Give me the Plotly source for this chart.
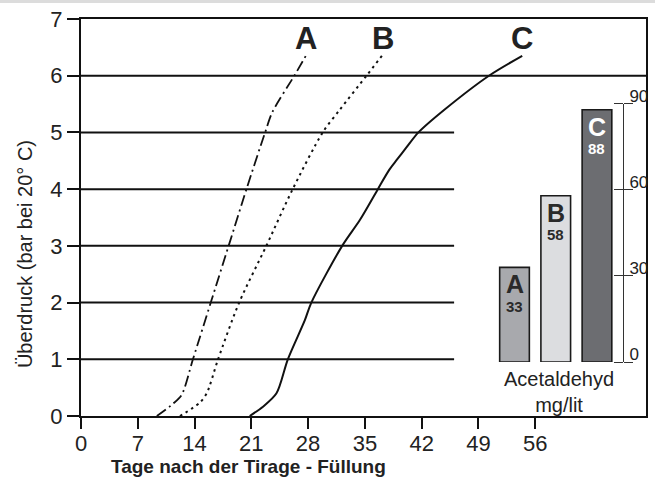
import plotly.graph_objects as go

# ---- data ----
days_A = [9.35, 11.3, 12.4, 13.8, 16.0, 18.2, 20.4, 22.7, 23.6, 26.3, 27.8]
pres_A = [0, 0.21, 0.37, 1, 2, 3, 4, 5, 5.36, 6, 6.37]
days_B = [12.2, 14.6, 15.5, 16.9, 19.5, 22.85, 26.1, 29.8, 31.9, 35.2, 37.2]
pres_B = [0, 0.23, 0.4, 1, 2, 3, 4, 5, 5.4, 6, 6.37]
days_C = [20.8, 22.4, 24.1, 25.5, 27.6, 28.4, 32.2, 34.4, 36.6, 38.0, 38.9, 40.1, 41.6, 44.8, 50.3, 54.4]
pres_C = [0, 0.16, 0.4, 1, 1.69, 2, 3, 3.46, 4, 4.34, 4.51, 4.73, 5, 5.4, 6, 6.35]

curve_names = ["A", "B", "C"]
x_ticks = [0, 7, 14, 21, 28, 35, 42, 49, 56]
y_ticks = [0, 1, 2, 3, 4, 5, 6, 7]
grid_levels = [1, 2, 3, 4, 5, 6]
grid_ends = [46, 46, 46, 46, 46, 69.66]

acet_cats = ["A", "B", "C"]
acet_vals = [33, 58, 88]
acet_ticks = [0, 30, 60, 90]

x_title = "Tage nach der Tirage - Füllung"
y_title = "Überdruck (bar bei 20° C)"

FONT = "Liberation Sans, Arial, sans-serif"
INK = "#222222"

fig = go.Figure()

styles = [
    dict(color="#111", width=1.8, dash="11px,4px,2px,4px"),
    dict(color="#111", width=2, dash="2.5px,4px"),
    dict(color="#111", width=2),
]
for xs, ys, st in zip([days_A, days_B, days_C], [pres_A, pres_B, pres_C], styles):
    fig.add_trace(go.Scatter(x=xs, y=ys, mode="lines",
                             line=dict(shape="spline", smoothing=0.8, **st),
                             showlegend=False, hoverinfo="skip"))

# curve labels
for name, xs, ys in zip(curve_names, [days_A, days_B, days_C], [pres_A, pres_B, pres_C]):
    fig.add_annotation(x=xs[-1], y=6.66, xref="x", yref="y", text=f"<b>{name}</b>",
                       showarrow=False, font=dict(family=FONT, size=31, color=INK))

# grid lines (partial)
for lv, xe in zip(grid_levels, grid_ends):
    fig.add_shape(type="line", xref="x", yref="y", x0=0, x1=xe, y0=lv, y1=lv,
                  line=dict(color="#111", width=2), layer="below")

# inset bars
bar_colors = ["#a8a9ad", "#dcdde0", "#6c6d71"]
text_colors = ["#2a2a2a", "#2a2a2a", "#ffffff"]
fig.add_trace(go.Bar(x=acet_cats, y=acet_vals, xaxis="x2", yaxis="y2", width=0.72,
                     marker=dict(color=bar_colors, line=dict(color="#1a1a1a", width=1.6)),
                     showlegend=False, hoverinfo="skip"))
# extra overlaid axis for left half of cross ticks
fig.add_trace(go.Scatter(x=[None], y=[None], xaxis="x2", yaxis="y3", showlegend=False,
                         hoverinfo="skip"))

for cat, val, tc in zip(acet_cats, acet_vals, text_colors):
    fig.add_annotation(x=cat, y=val, xref="x2", yref="y2", text=f"<b>{cat}</b>",
                       showarrow=False, yanchor="middle", yshift=-17,
                       font=dict(family=FONT, size=25, color=tc))
    fig.add_annotation(x=cat, y=val, xref="x2", yref="y2", text=f"<b>{val}</b>",
                       showarrow=False, yanchor="middle", yshift=-39,
                       font=dict(family=FONT, size=15, color=tc))

fig.add_annotation(x="B", y=0, xref="x2", yref="y2", xshift=3, yshift=-4,
                   yanchor="top",
                   text="Acetaldehyd<br>mg/lit", showarrow=False, align="center",
                   font=dict(family=FONT, size=20, color=INK))

# axis titles (placed off-centre as in the reference)
fig.add_annotation(x=0.297, y=-0.128, xref="paper", yref="paper", text=f"<b>{x_title}</b>",
                   xanchor="center", yanchor="middle",
                   showarrow=False, font=dict(family=FONT, size=19, color=INK))
fig.add_annotation(x=-0.099, y=0.408, xref="paper", yref="paper", text=y_title,
                   xanchor="center", yanchor="middle",
                   textangle=-90, showarrow=False, font=dict(family=FONT, size=20, color=INK))

# top grey strip
fig.add_shape(type="rect", xref="paper", yref="paper", x0=-0.25, x1=1.1,
              y0=1 + 16 / 397, y1=1 + 25 / 397, fillcolor="#dcdcdc", line=dict(width=0),
              layer="below")

fig.update_layout(
    width=655, height=479,
    margin=dict(l=81, r=9, t=19, b=63),
    paper_bgcolor="white", plot_bgcolor="white",
    font=dict(family=FONT, color=INK),
    xaxis=dict(range=[0, 69.66], tickvals=x_ticks, showgrid=False, zeroline=False,
               showline=True, linecolor="#111", linewidth=2, mirror=True, automargin=False,
               ticks="outside", ticklen=11, tickwidth=2, tickcolor="#111",
               tickfont=dict(size=22, family=FONT, color=INK), ticklabelstandoff=-4),
    yaxis=dict(range=[0, 7], tickvals=y_ticks, showgrid=False, zeroline=False,
               showline=True, linecolor="#111", linewidth=2, mirror=True, automargin=False,
               ticks="outside", ticklen=12, tickwidth=2, tickcolor="#111",
               tickfont=dict(size=22, family=FONT, color=INK), ticklabelstandoff=0),
    xaxis2=dict(domain=[0.7308, 0.9497], anchor="y2", range=[-0.5, 2.5], visible=False,
                type="category", fixedrange=True, automargin=False),
    yaxis2=dict(domain=[0.136, 0.786], anchor="free", position=0.9593, side="right",
                range=[0, 90], tickvals=acet_ticks, showgrid=False, zeroline=False,
                showline=True, linecolor="#333", linewidth=1, automargin=False,
                ticks="outside", ticklen=9, tickwidth=1, tickcolor="#333",
                ticklabelshift=-8, ticklabelstandoff=-7,
                tickfont=dict(size=17, family=FONT, color=INK)),
    yaxis3=dict(overlaying="y2", anchor="free", position=0.9593, side="left",
                range=[0, 90], tickvals=acet_ticks, showgrid=False, zeroline=False,
                showline=False, showticklabels=False, automargin=False,
                ticks="outside", ticklen=9, tickwidth=1, tickcolor="#333"),
)

# remove the default page margin so the figure sits at the window's corner
fig.write_html("out.html", config={"displayModeBar": False},
               post_script="document.body.style.margin='0px';document.body.style.overflow='hidden';")
